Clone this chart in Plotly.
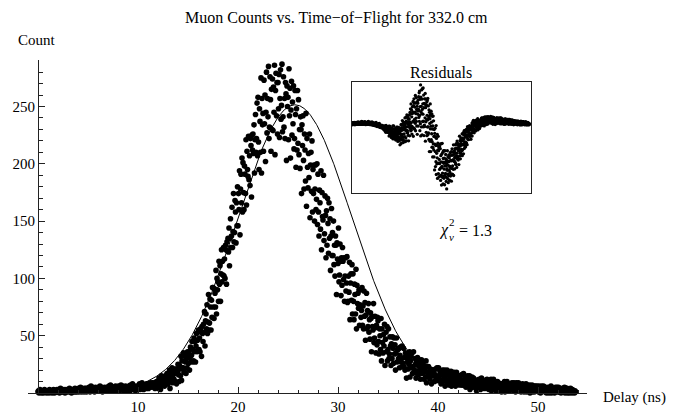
import numpy as np
import plotly.graph_objects as go

W, H = 673, 416

# Time-of-flight histogram: counts per 0.05 ns delay bin, starting at 0 ns
DELAY_START = 0.0
BIN_WIDTH = 0.05
COUNTS = [
    1, 2, 0, 1, 3, 1, 2, 0, 2, 1, 1, 0, 2, 3, 1, 1, 2, 0, 1, 2,
    2, 1, 0, 3, 1, 2, 1, 2, 0, 2, 1, 3, 1, 0, 2, 1, 2, 1, 3, 1,
    1, 3, 2, 0, 2, 4, 1, 2, 3, 1, 2, 1, 3, 2, 0, 2, 3, 1, 2, 2,
    3, 1, 2, 4, 2, 1, 3, 0, 2, 3, 2, 3, 1, 2, 4, 1, 2, 3, 1, 2,
    2, 4, 1, 3, 2, 5, 3, 1, 4, 2, 3, 2, 1, 4, 3, 2, 4, 1, 3, 2,
    4, 2, 5, 3, 1, 4, 6, 2, 3, 5, 2, 3, 4, 1, 3, 5, 2, 4, 3, 2,
    3, 5, 2, 4, 6, 3, 2, 5, 4, 1, 3, 4, 2, 5, 3, 2, 4, 3, 5, 2,
    4, 2, 6, 3, 5, 7, 3, 4, 2, 5, 3, 4, 5, 2, 4, 6, 3, 2, 4, 5,
    3, 6, 4, 2, 5, 3, 7, 4, 3, 6, 4, 2, 5, 3, 4, 6, 2, 5, 4, 3,
    5, 3, 6, 4, 2, 7, 4, 5, 3, 8, 4, 5, 3, 6, 4, 2, 5, 4, 6, 3,
    4, 6, 5, 8, 3, 6, 7, 4, 9, 6, 5, 3, 6, 4, 7, 5, 4, 6, 8, 5,
    6, 4, 8, 5, 7, 9, 5, 8, 6, 9, 7, 5, 6, 9, 4, 8, 7, 10, 6, 8,
    9, 4, 13, 8, 12, 3, 9, 15, 7, 12, 12, 9, 14, 6, 11, 15, 9, 11, 17, 8,
    8, 15, 11, 20, 4, 16, 19, 12, 22, 9, 13, 21, 12, 17, 10, 21, 19, 8, 21, 18,
    25, 16, 10, 24, 21, 15, 32, 11, 28, 22, 22, 35, 18, 21, 32, 27, 17, 30, 22, 36,
    33, 26, 36, 20, 32, 40, 28, 33, 45, 27, 38, 28, 48, 36, 45, 27, 41, 52, 36, 46,
    38, 55, 38, 48, 36, 56, 53, 32, 58, 52, 45, 60, 53, 71, 41, 63, 69, 56, 77, 52,
    62, 86, 55, 61, 82, 75, 55, 81, 66, 92, 92, 75, 65, 91, 87, 75, 107, 69, 100, 90,
    97, 80, 115, 95, 111, 80, 104, 125, 97, 115, 103, 127, 102, 117, 100, 129, 125, 95, 132, 124,
    135, 123, 144, 111, 135, 152, 127, 137, 162, 127, 141, 174, 132, 140, 168, 158, 131, 166, 146, 180,
    146, 174, 160, 194, 138, 178, 191, 166, 205, 158, 201, 175, 160, 198, 191, 174, 221, 164, 211, 195,
    189, 224, 186, 207, 181, 222, 216, 171, 225, 212, 226, 209, 234, 192, 221, 243, 210, 222, 253, 207,
    258, 219, 195, 248, 237, 210, 275, 192, 257, 234, 244, 211, 273, 235, 260, 202, 245, 280, 227, 257,
    241, 285, 222, 232, 276, 256, 211, 265, 230, 274, 229, 267, 245, 286, 208, 264, 279, 242, 271, 226,
    271, 248, 278, 223, 257, 282, 239, 251, 287, 228, 241, 276, 232, 257, 222, 271, 261, 203, 268, 250,
    258, 221, 283, 242, 266, 205, 247, 272, 225, 254, 235, 268, 213, 222, 264, 243, 197, 248, 212, 264,
    218, 256, 208, 230, 196, 241, 230, 174, 234, 216, 242, 203, 178, 226, 212, 185, 244, 163, 222, 197,
    179, 209, 188, 226, 153, 199, 210, 176, 220, 158, 195, 174, 199, 150, 178, 199, 160, 169, 200, 147,
    191, 158, 137, 177, 166, 143, 194, 125, 175, 154, 151, 190, 133, 139, 172, 155, 118, 159, 129, 170,
    148, 122, 166, 135, 152, 107, 137, 161, 120, 140, 120, 150, 112, 129, 102, 137, 129, 86, 131, 117,
    113, 144, 97, 103, 130, 115, 85, 118, 94, 127, 115, 99, 118, 80, 102, 118, 89, 96, 119, 79,
    80, 102, 88, 114, 64, 96, 104, 81, 112, 69, 104, 80, 64, 95, 86, 69, 108, 56, 94, 78,
    87, 74, 90, 59, 77, 90, 66, 72, 92, 59, 76, 56, 89, 67, 79, 46, 68, 87, 56, 72,
    58, 78, 53, 64, 47, 70, 65, 36, 67, 58, 55, 78, 44, 48, 67, 57, 35, 59, 42, 66,
    63, 45, 34, 56, 50, 38, 65, 28, 56, 44, 35, 51, 41, 60, 24, 47, 53, 36, 58, 28,
    38, 56, 30, 34, 49, 41, 24, 43, 30, 49, 39, 26, 48, 34, 42, 20, 35, 48, 27, 38,
    38, 30, 39, 22, 33, 40, 27, 30, 41, 23, 26, 39, 23, 31, 20, 35, 31, 13, 33, 27,
    21, 31, 25, 36, 14, 28, 32, 22, 35, 17, 23, 36, 18, 20, 30, 25, 13, 27, 17, 31,
    24, 16, 29, 20, 26, 12, 21, 29, 17, 23, 26, 18, 12, 23, 20, 14, 28, 9, 23, 18,
    16, 23, 14, 18, 12, 21, 19, 8, 20, 17, 19, 15, 20, 10, 16, 21, 13, 15, 22, 11,
    14, 22, 11, 12, 19, 16, 8, 17, 11, 20, 10, 16, 13, 20, 6, 15, 18, 11, 20, 8,
    18, 11, 7, 15, 13, 9, 19, 6, 16, 12, 13, 8, 18, 11, 15, 6, 12, 18, 9, 14,
    13, 11, 15, 7, 11, 15, 9, 11, 16, 7, 10, 17, 7, 8, 14, 11, 5, 12, 7, 15,
    7, 12, 9, 15, 3, 11, 13, 8, 14, 5, 7, 13, 6, 10, 5, 11, 10, 2, 11, 9,
    9, 5, 12, 8, 10, 3, 8, 13, 6, 10, 10, 7, 10, 4, 8, 11, 6, 7, 12, 4,
    10, 6, 3, 9, 8, 4, 12, 2, 10, 7, 6, 12, 4, 5, 10, 8, 2, 8, 4, 10,
    5, 9, 4, 7, 3, 8, 7, 1, 8, 6, 4, 8, 5, 10, 1, 7, 8, 4, 10, 2,
    7, 5, 8, 2, 5, 8, 4, 5, 9, 3, 6, 2, 9, 5, 7, 1, 5, 9, 3, 6,
    4, 9, 2, 3, 7, 5, 1, 6, 3, 8, 7, 4, 1, 6, 5, 2, 8, 1, 7, 4,
    2, 5, 3, 7, 0, 5, 6, 3, 7, 1, 5, 3, 6, 1, 4, 6, 2, 4, 6, 2,
    4, 1, 6, 3, 5, 0, 3, 6, 2, 4, 2, 6, 2, 4, 1, 5, 4, 0, 4, 3,
    5, 2, 0, 4, 3, 1, 6, 0, 4, 3, 4, 2, 4, 0, 3, 5, 2, 2, 5, 1,
    2, 5, 1, 1, 4, 3, 0, 3, 1, 4, 1, 3, 2, 5, 0, 3, 4, 1, 4, 0,
    2, 1, 3, 0, 2, 4, 1, 2, 0, 3, 1, 2, 1, 0, 2, 1,
]

# Gaussian fit parameters
FIT_AMPLITUDE = 250.0
FIT_CENTER = 25.7
FIT_SIGMA = 5.7
FIT_OFFSET = 1.5
CHI2_REDUCED = "1.3"

X_TICKS = [10, 20, 30, 40, 50]
Y_TICKS = [50, 100, 150, 200, 250]

TITLE = "Muon Counts vs. Time\u2212of\u2212Flight for 332.0 cm"
X_LABEL = "Delay (ns)"
Y_LABEL = "Count"
INSET_TITLE = "Residuals"

SERIF = "Liberation Serif, Times New Roman, serif"
AXIS_COLOR = "#222222"


def px(x):
    return x / W


def py(y):
    return 1 - y / H


counts = np.array(COUNTS, dtype=float)
delay = np.round(DELAY_START + BIN_WIDTH * np.arange(len(counts)), 3)
fit = FIT_AMPLITUDE * np.exp(-(delay - FIT_CENTER) ** 2 / (2 * FIT_SIGMA ** 2)) + FIT_OFFSET
residuals = counts - fit

fig = go.Figure()

# fitted curve under the data points
fig.add_trace(go.Scatter(
    x=delay, y=fit, mode="lines",
    line=dict(color="black", width=1),
    xaxis="x", yaxis="y", hoverinfo="skip",
))
fig.add_trace(go.Scatter(
    x=delay, y=counts, mode="markers",
    marker=dict(size=5.6, color="black", line=dict(width=0)),
    cliponaxis=False, xaxis="x", yaxis="y",
))
# residuals inset
fig.add_trace(go.Scatter(
    x=delay, y=residuals, mode="markers",
    marker=dict(size=3.3, color="black", line=dict(width=0)),
    xaxis="x2", yaxis="y2",
))

tick_font = dict(family=SERIF, size=15, color="black")

fig.update_layout(
    width=W, height=H, autosize=False,
    margin=dict(l=0, r=0, t=0, b=0),
    paper_bgcolor="white", plot_bgcolor="white",
    showlegend=False,
    xaxis=dict(
        domain=[px(28), px(587)], range=[-1.0, 54.9], anchor="y",
        showline=True, linecolor=AXIS_COLOR, linewidth=1,
        ticks="inside", ticklen=6, tickwidth=1, tickcolor=AXIS_COLOR,
        tickvals=X_TICKS, ticktext=[str(v) for v in X_TICKS],
        minor=dict(dtick=2, tick0=0, ticks="inside", ticklen=3.5, tickwidth=1, tickcolor=AXIS_COLOR),
        showgrid=False, zeroline=False, tickfont=tick_font,
    ),
    yaxis=dict(
        domain=[py(393), py(60)], range=[0, 290.6], anchor="free", position=px(38),
        showline=True, linecolor=AXIS_COLOR, linewidth=1,
        ticks="inside", ticklen=6, tickwidth=1, tickcolor=AXIS_COLOR,
        tickvals=Y_TICKS, ticktext=[str(v) for v in Y_TICKS],
        minor=dict(dtick=10, tick0=0, ticks="inside", ticklen=3.5, tickwidth=1, tickcolor=AXIS_COLOR),
        showgrid=False, zeroline=False, tickfont=tick_font,
    ),
    xaxis2=dict(
        domain=[px(352), px(531)], range=[2.5, 54.2], anchor="y2",
        showline=True, mirror=True, linecolor=AXIS_COLOR, linewidth=1,
        showticklabels=False, ticks="", showgrid=False, zeroline=False,
    ),
    yaxis2=dict(
        domain=[py(193), py(82)], range=[-114, 69], anchor="x2",
        showline=True, mirror=True, linecolor=AXIS_COLOR, linewidth=1,
        showticklabels=False, ticks="", showgrid=False, zeroline=False,
    ),
    shapes=[dict(
        type="line", xref="x2 domain", yref="y2", x0=0, x1=1, y0=0, y1=0,
        line=dict(color="#7f7f7f", width=1), layer="below",
    )],
)


def label(text, x, y, size=15, xanchor="center"):
    fig.add_annotation(
        text=text, x=px(x), y=py(y), xref="paper", yref="paper",
        xanchor=xanchor, yanchor="middle", showarrow=False,
        font=dict(family=SERIF, size=size, color="black"),
    )


label(TITLE, 336, 18, size=16)
label(Y_LABEL, 37, 40, size=15)
label(X_LABEL, 601, 397, size=15, xanchor="left")
label(INSET_TITLE, 441, 72, size=16)
label("<i>\u03c7</i>", 437, 230, size=16, xanchor="left")
label("2", 447, 222, size=11, xanchor="left")
label("<i>\u03bd</i>", 447, 237, size=11, xanchor="left")
label("= " + CHI2_REDUCED, 457, 230, size=16, xanchor="left")

fig.write_html("out.html")
